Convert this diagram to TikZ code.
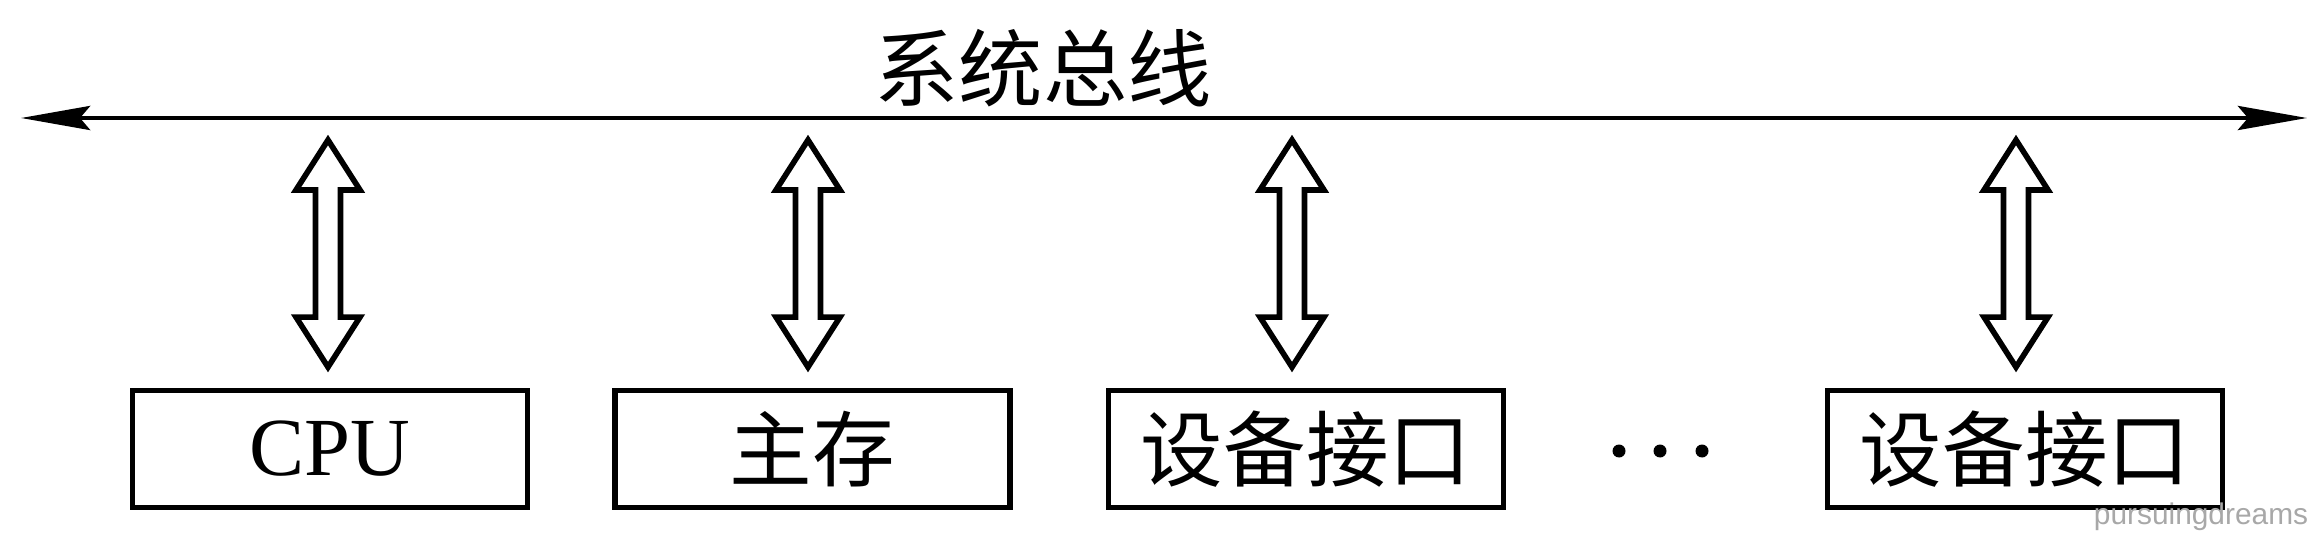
\documentclass[tikz,border=0pt]{standalone}
\usepackage{fontspec}
\setmainfont{Liberation Serif}
\newfontfamily\cjk{Noto Sans CJK SC}
\newfontfamily\wzfont{Liberation Sans}
\usetikzlibrary{arrows.meta,calc}
\definecolor{wzgrau}{HTML}{A8A8A8}
\tikzset{
  bus/.style={{Stealth[length=6.9mm,width=2.4mm,inset=1mm]}-{Stealth[length=6.9mm,width=2.4mm,inset=1mm]},line width=1.4pt},
  modul/.style={draw,line width=1.65pt,minimum width=3.95cm,minimum height=1.17cm,inner sep=0pt,font=\fontsize{23.5pt}{28pt}\selectfont},
  dpfeil/.style={line width=1.6pt,to path={let \p1=(\tikztostart),\p2=(\tikztotarget) in
    (\x1,\y1) -- (\x1+3.2mm,\y1-5mm) -- (\x1+1.25mm,\y1-5mm) -- (\x1+1.25mm,\y2+5mm) -- (\x1+3.2mm,\y2+5mm) -- (\x1,\y2)
    -- (\x1-3.2mm,\y2+5mm) -- (\x1-1.25mm,\y2+5mm) -- (\x1-1.25mm,\y1-5mm) -- (\x1-3.2mm,\y1-5mm) -- cycle}},
}
\begin{document}
\begin{tikzpicture}
  \useasboundingbox (0,0) rectangle (23.21,-5.40);
  % Systembus
  \coordinate (busl) at (0.21,-1.18);
  \coordinate (busr) at (23.07,-1.18);
  \draw[bus] (busl) -- (busr);
  \node[font=\cjk\fontsize{24pt}{28pt}\selectfont] (titel) at (10.43,-0.68) {系统总线};
  % Module
  \node[modul] (cpu) at (3.30,-4.49) {CPU};
  \node[modul,font=\cjk\fontsize{23.5pt}{28pt}\selectfont] (haupt) at (8.125,-4.49) {主存};
  \node[modul,font=\cjk\fontsize{23.5pt}{28pt}\selectfont] (geraet) at (13.06,-4.49) {设备接口};
  \node[modul,font=\cjk\fontsize{23.5pt}{28pt}\selectfont] (geraetn) at (20.25,-4.49) {设备接口};
  \fill (16.19,-4.51) circle (0.065);
  \fill (16.60,-4.51) circle (0.065);
  \fill (17.02,-4.51) circle (0.065);
  % Anschluesse
  \coordinate (a1) at (3.28,-1.18);
  \coordinate (a2) at (8.08,-1.18);
  \coordinate (a3) at (12.92,-1.18);
  \coordinate (a4) at (20.16,-1.18);
  \draw[dpfeil] ([yshift=-2.2mm]a1) to ([yshift=2.05mm]cpu.north -| a1);
  \draw[dpfeil] ([yshift=-2.2mm]a2) to ([yshift=2.05mm]haupt.north -| a2);
  \draw[dpfeil] ([yshift=-2.2mm]a3) to ([yshift=2.05mm]geraet.north -| a3);
  \draw[dpfeil] ([yshift=-2.2mm]a4) to ([yshift=2.05mm]geraetn.north -| a4);
  \node[wzgrau,font=\wzfont\fontsize{8.5pt}{10pt}\selectfont] (wz) at (22.01,-5.17) {pursuingdreams};
\end{tikzpicture}
\end{document}
